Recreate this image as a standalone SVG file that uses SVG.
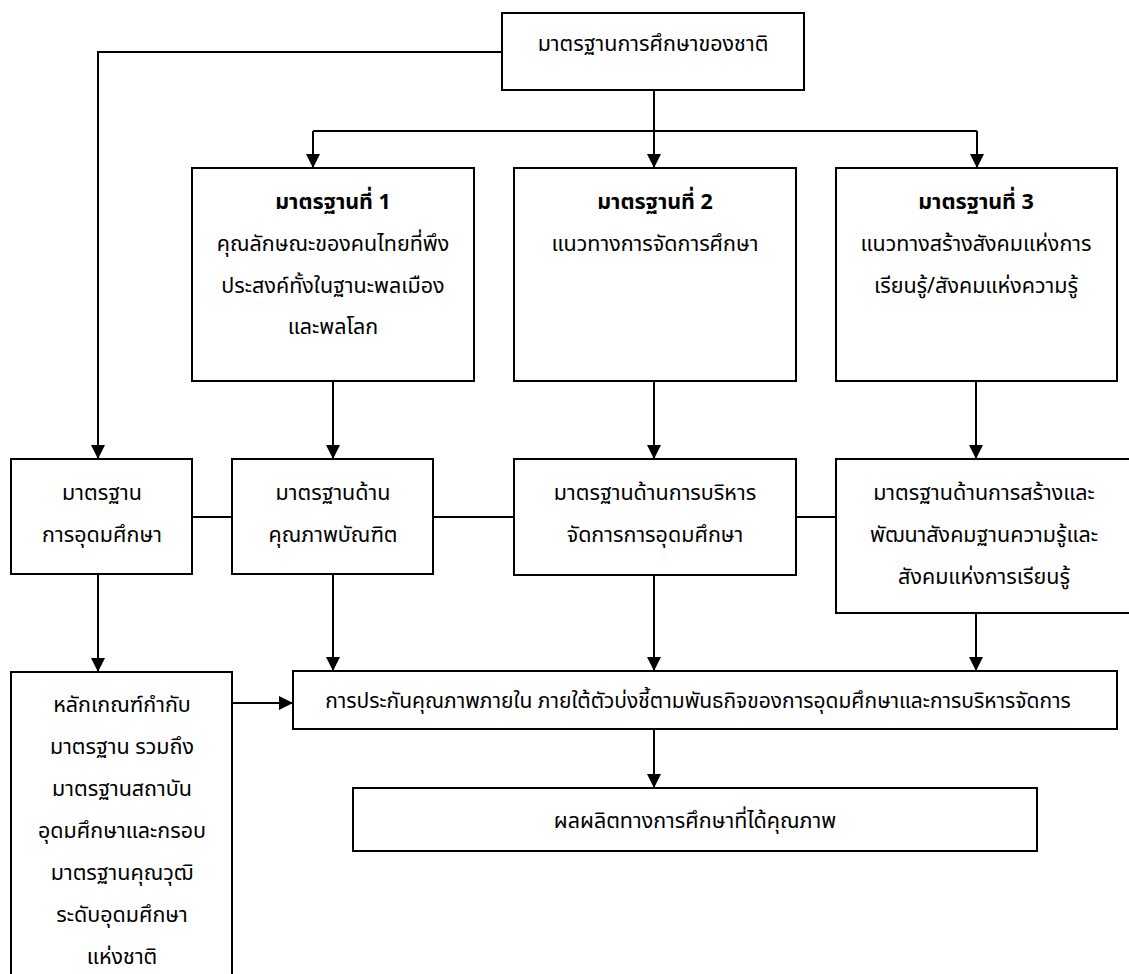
<svg xmlns="http://www.w3.org/2000/svg" width="1129" height="974" viewBox="0 0 1129 974">
<defs>
<marker id="ah" viewBox="0 0 10 10" refX="10" refY="5" markerWidth="14" markerHeight="14" markerUnits="userSpaceOnUse" orient="auto">
<path d="M0,0 L10,5 L0,10 z" fill="#000"/>
</marker>
<style>
rect{fill:#fff;stroke:#000;stroke-width:2}
text{font-family:"Noto Sans Thai","Tahoma","DejaVu Sans","Noto Sans",sans-serif;font-size:21.5px;fill:#000;text-anchor:middle}
.b{font-weight:bold}
.f{font-size:21px}
#connectors path{fill:none;stroke:#000;stroke-width:2}
.a{marker-end:url(#ah)}
</style>
</defs>
<rect x="0" y="0" width="1129" height="974" style="fill:#fff;stroke:none"/>
<g id="connectors">
<path class="a" d="M502,52 H98 V459"/>
<path d="M654,90 V131"/>
<path d="M313,131 H977"/>
<path class="a" d="M313,131 V168"/>
<path class="a" d="M654,131 V168"/>
<path class="a" d="M977,131 V168"/>
<path class="a" d="M333,381 V459"/>
<path class="a" d="M654,381 V459"/>
<path class="a" d="M976,381 V459"/>
<path d="M192,517 H232"/>
<path d="M433,517 H514"/>
<path d="M796,517 H836"/>
<path class="a" d="M98,574 V672"/>
<path class="a" d="M333,574 V671"/>
<path class="a" d="M654,575 V671"/>
<path class="a" d="M976,613 V671"/>
<path class="a" d="M232,703 H293"/>
<path class="a" d="M654,729 V788"/>
</g>
<g id="n0"><rect x="502" y="13" width="302" height="77"/><text x="653" y="51">มาตรฐานการศึกษาของชาติ</text></g>
<g id="n1"><rect x="192" y="168" width="282" height="213"/>
<text x="333" y="209" class="b">มาตรฐานที่ 1</text>
<text x="333" y="251">คุณลักษณะของคนไทยที่พึง</text>
<text x="333" y="293">ประสงค์ทั้งในฐานะพลเมือง</text>
<text x="333" y="334">และพลโลก</text></g>
<g id="n2"><rect x="514" y="168" width="282" height="213"/>
<text x="655" y="209" class="b">มาตรฐานที่ 2</text>
<text x="655" y="251">แนวทางการจัดการศึกษา</text></g>
<g id="n3"><rect x="836" y="168" width="281" height="213"/>
<text x="976" y="209" class="b">มาตรฐานที่ 3</text>
<text x="976" y="251">แนวทางสร้างสังคมแห่งการ</text>
<text x="976" y="293">เรียนรู้/สังคมแห่งความรู้</text></g>
<g id="nA"><rect x="11" y="459" width="181" height="115"/>
<text x="102" y="500">มาตรฐาน</text>
<text x="102" y="542">การอุดมศึกษา</text></g>
<g id="nB"><rect x="232" y="459" width="201" height="115"/>
<text x="333" y="500">มาตรฐานด้าน</text>
<text x="333" y="542">คุณภาพบัณฑิต</text></g>
<g id="nC"><rect x="514" y="459" width="282" height="116"/>
<text x="655" y="500">มาตรฐานด้านการบริหาร</text>
<text x="655" y="542">จัดการการอุดมศึกษา</text></g>
<g id="nD"><rect x="836" y="459" width="300" height="154"/>
<text x="984" y="500">มาตรฐานด้านการสร้างและ</text>
<text x="984" y="542">พัฒนาสังคมฐานความรู้และ</text>
<text x="984" y="584">สังคมแห่งการเรียนรู้</text></g>
<g id="nE"><rect x="11" y="672" width="221" height="310"/>
<text x="122" y="712">หลักเกณฑ์กำกับ</text>
<text x="122" y="754">มาตรฐาน รวมถึง</text>
<text x="122" y="796">มาตรฐานสถาบัน</text>
<text x="122" y="838">อุดมศึกษาและกรอบ</text>
<text x="122" y="880">มาตรฐานคุณวุฒิ</text>
<text x="122" y="922">ระดับอุดมศึกษา</text>
<text x="122" y="964">แห่งชาติ</text></g>
<g id="nF"><rect x="293" y="671" width="824" height="58"/>
<text x="698" y="708" class="f">การประกันคุณภาพภายใน ภายใต้ตัวบ่งชี้ตามพันธกิจของการอุดมศึกษาและการบริหารจัดการ</text></g>
<g id="nG"><rect x="353" y="788" width="684" height="63"/>
<text x="695" y="828">ผลผลิตทางการศึกษาที่ได้คุณภาพ</text></g>
</svg>
